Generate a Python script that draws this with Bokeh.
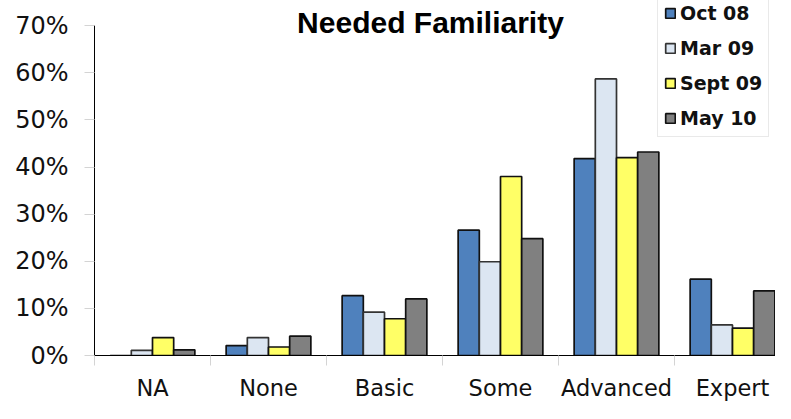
import numpy as np
from bokeh.plotting import figure
from bokeh.models import (Range1d, FixedTicker, PrintfTickFormatter, Legend, LegendItem,
                          ColumnDataSource)
from bokeh.core.properties import value
from bokeh.embed import file_html
from bokeh.resources import INLINE

# ---- data (percent) ----
categories = ["NA", "None", "Basic", "Some", "Advanced", "Expert"]
series_names = ["Oct 08", "Mar 09", "Sept 09", "May 10"]
oct08 = [0.0, 2.1, 12.7, 26.6, 41.8, 16.2]
mar09 = [1.1, 3.8, 9.2, 19.9, 58.7, 6.5]
sept09 = [3.8, 1.8, 7.8, 38.0, 42.0, 5.8]
may10 = [1.2, 4.1, 12.0, 24.8, 43.2, 13.7]
y_ticks = [0, 10, 20, 30, 40, 50, 60, 70]
title_text = "Needed Familiarity"

series_values = [oct08, mar09, sept09, may10]
fills = ["#4F81BD", "#DCE6F2", "#FFFF66", "#808080"]
outlines = ["#111111", "#333333", "#111111", "#111111"]

# ---- layout (pixels) ----
W, H = 775, 403
LEFT, BOTTOM = 94, 37
CAT_PX = 116.0          # width of one category
Y_TOP_PX = 26           # pixel row of the 70% tick
frame_w = W - LEFT
frame_h = H - BOTTOM
y_max = y_ticks[-1]
y_end = y_max * frame_h / (frame_h - Y_TOP_PX)

p = figure(width=W, height=H, output_backend="svg", toolbar_location=None,
           x_range=Range1d(0, frame_w / CAT_PX), y_range=Range1d(0, y_end),
           min_border_left=LEFT, min_border_right=0, min_border_top=0,
           min_border_bottom=BOTTOM)
p.xgrid.visible = False
p.ygrid.visible = False
p.outline_line_color = None
p.background_fill_color = "white"
p.border_fill_color = "white"

centers = np.arange(len(categories)) + 0.5

# x axis: category names at centers, light boundary ticks
p.xaxis.ticker = FixedTicker(ticks=list(centers),
                             minor_ticks=list(range(len(categories) + 1)))
p.xaxis.major_label_overrides = {float(c): n for c, n in zip(centers, categories)}
p.xaxis.axis_line_color = "black"
p.xaxis.axis_line_width = 1
p.xaxis.major_tick_line_color = None
p.xaxis.major_tick_out = 0
p.xaxis.major_tick_in = 0
p.xaxis.minor_tick_line_color = "#D4D4D4"
p.xaxis.minor_tick_line_width = 1
p.xaxis.minor_tick_out = 10
p.xaxis.minor_tick_in = 0
p.xaxis.major_label_standoff = 9
p.xaxis.major_label_text_font = "DejaVu Sans"
p.xaxis.major_label_text_font_size = "22.5px"
p.xaxis.major_label_text_color = "#111111"

# y axis
p.yaxis.ticker = FixedTicker(ticks=y_ticks, minor_ticks=[])
p.yaxis.bounds = (0, y_max)
p.yaxis.formatter = PrintfTickFormatter(format="%d%%")
p.yaxis.axis_line_color = "black"
p.yaxis.axis_line_width = 1
p.yaxis.major_tick_line_color = "#D4D4D4"
p.yaxis.major_tick_out = 10
p.yaxis.major_tick_in = 0
p.yaxis.minor_tick_line_color = None
p.yaxis.major_label_standoff = 16
p.yaxis.major_label_text_font = "DejaVu Sans"
p.yaxis.major_label_text_font_size = "24px"
p.yaxis.major_label_text_color = "#111111"

# bars
bar_w = 0.1826
items = []
for j, (name, vals) in enumerate(zip(series_names, series_values)):
    src = ColumnDataSource(dict(x=centers + (j - 1.5) * bar_w, top=vals))
    r = p.vbar(x="x", top="top", bottom=0, width=bar_w, source=src,
               fill_color=fills[j], line_color=outlines[j], line_width=1.7)
    items.append(LegendItem(label=name, renderers=[r]))

# title (placed in the free space above the 70% line)
def px_x(px):
    return (px - LEFT) / CAT_PX

def px_y(py):
    return (frame_h - py) / frame_h * y_end

p.text(x=[px_x(430)], y=[px_y(22.5)], text=[title_text],
       text_align="center", text_baseline="alphabetic",
       text_font=value("Liberation Sans"), text_font_style="bold",
       text_font_size="30px", text_color="black")

legend = Legend(items=items, location=(657 - LEFT, frame_h - 148),
                orientation="vertical",
                label_text_font="DejaVu Sans", label_text_font_style="bold",
                label_text_font_size="19px", label_text_color="#111111",
                glyph_width=12, glyph_height=12, label_standoff=4,
                label_height=24, padding=6, spacing=11, margin=0,
                border_line_color="#D4D4D4", border_line_width=1,
                background_fill_color="white", background_fill_alpha=1.0)
p.add_layout(legend)

open("out.html", "w").write(file_html(p, INLINE))
